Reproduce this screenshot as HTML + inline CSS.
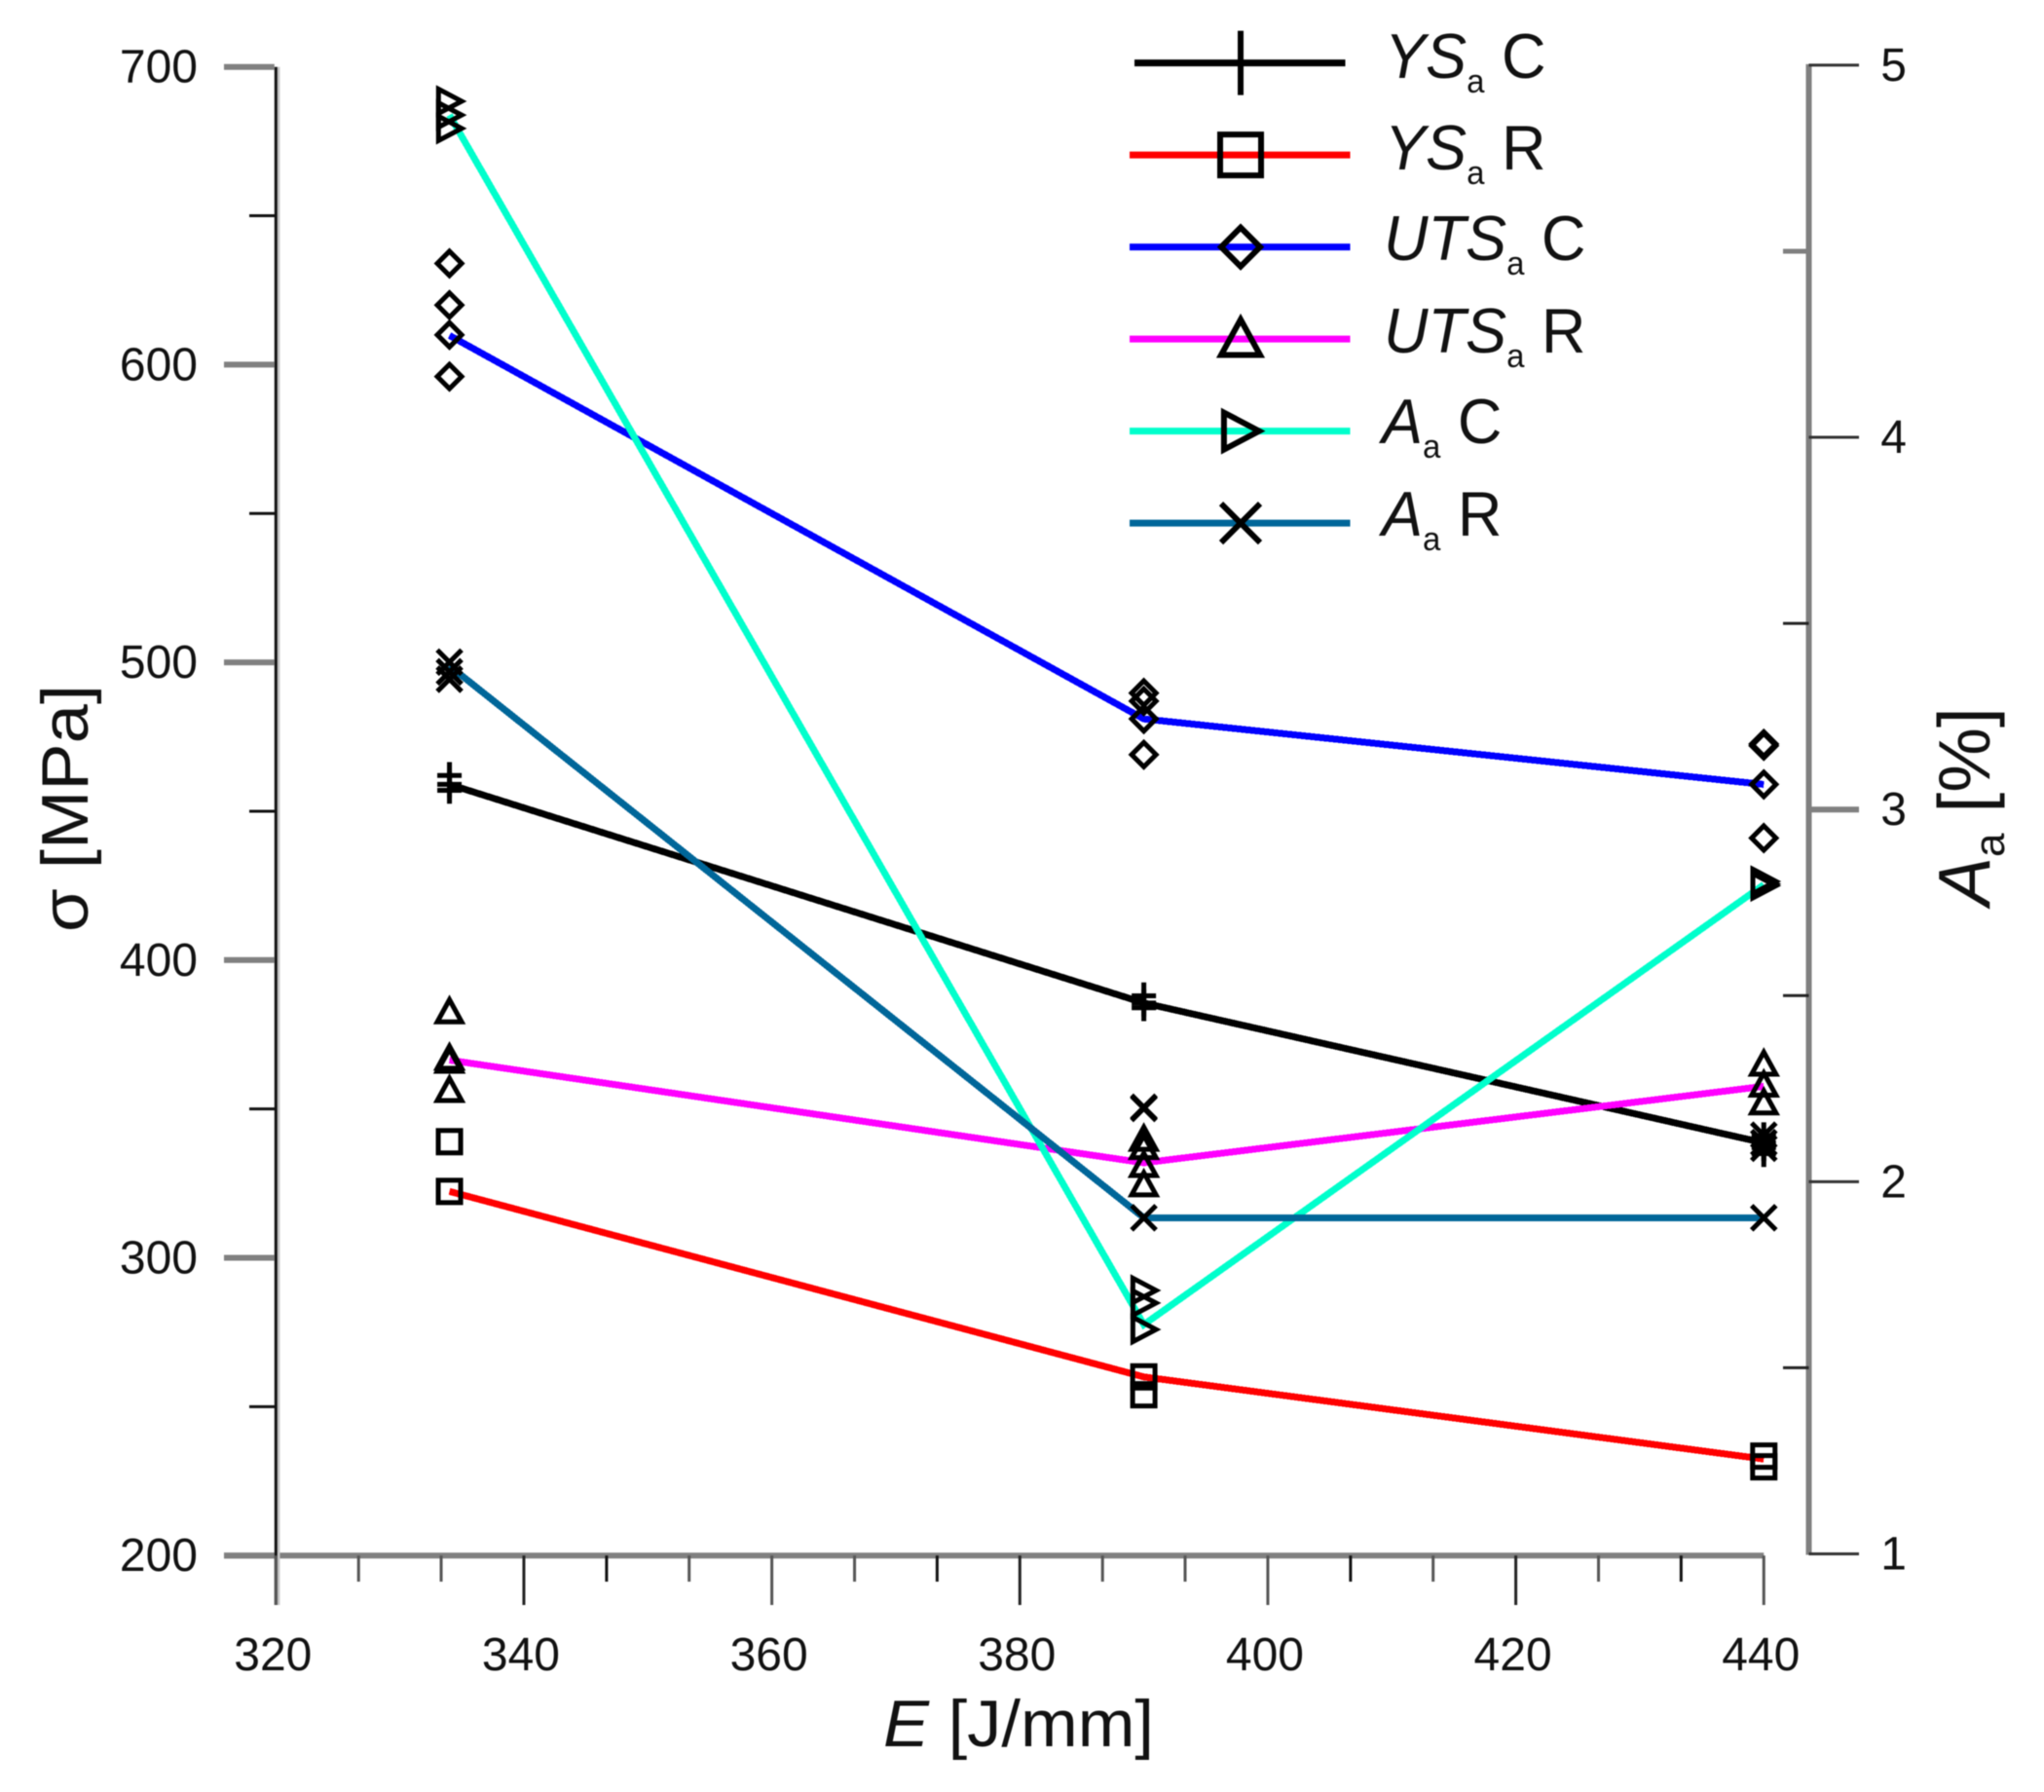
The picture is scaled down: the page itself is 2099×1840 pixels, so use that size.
<!DOCTYPE html>
<html>
<head>
<meta charset="utf-8">
<title>Strength and elongation vs energy</title>
<style>
html,body{margin:0;padding:0;background:#fff;}
svg{display:block;filter:blur(.5px);}
text{font-family:"Liberation Sans",sans-serif;fill:#111;}
</style>
</head>
<body>
<svg id="chart" xmlns="http://www.w3.org/2000/svg" width="2099" height="1840" viewBox="0 0 2099 1840">
  <rect x="0" y="0" width="2099" height="1840" fill="#fff"/>
  <g id="axes"></g>
  <g id="series"></g>
  <g id="marks"></g>
  <g id="legend"></g>

  <text x="907" y="1793" font-size="68" textLength="278" lengthAdjust="spacingAndGlyphs"><tspan font-style="italic">E</tspan> [J/mm]</text>
  <text transform="translate(90,957) rotate(-90)" font-size="68" textLength="254" lengthAdjust="spacingAndGlyphs">σ [MPa]</text>
  <text transform="translate(2043,930) rotate(-90)" font-size="75"><tspan font-style="italic">A</tspan><tspan font-size="44" dy="15">a</tspan><tspan dy="-15"> [%]</tspan></text>

  <g font-size="65">
    <text transform="translate(1422,80) scale(.97,1)"><tspan font-style="italic">YS</tspan><tspan font-size="34" dy="15">a</tspan><tspan dy="-15"> C</tspan></text>
    <text transform="translate(1422,174) scale(.97,1)"><tspan font-style="italic">YS</tspan><tspan font-size="34" dy="15">a</tspan><tspan dy="-15"> R</tspan></text>
    <text transform="translate(1421,267) scale(.97,1)"><tspan font-style="italic">UTS</tspan><tspan font-size="34" dy="15">a</tspan><tspan dy="-15"> C</tspan></text>
    <text transform="translate(1421,362) scale(.97,1)"><tspan font-style="italic">UTS</tspan><tspan font-size="34" dy="15">a</tspan><tspan dy="-15"> R</tspan></text>
    <text transform="translate(1419,455) scale(.97,1)"><tspan font-style="italic">A</tspan><tspan font-size="34" dy="15">a</tspan><tspan dy="-15"> C</tspan></text>
    <text transform="translate(1419,550) scale(.97,1)"><tspan font-style="italic">A</tspan><tspan font-size="34" dy="15">a</tspan><tspan dy="-15"> R</tspan></text>
  </g>
</svg>
<script>
// ---- chart data ----
const energies = [334, 390, 440];

const ysCMean = [459, 385.6, 338.6];
const ysRMean = [322.3, 260, 232.4];
const utsCMean = [609.8, 481, 459];
const utsRMean = [366.4, 331.9, 357.6];
const aCMean = [4.866, 1.616, 2.798];
const aRMean = [3.386, 1.903, 1.903];

const ysCSamples = [[462, 459, 457], [388, 385.6, 384], [335, 337, 338.6, 341]];
const ysRSamples = [[339, 322.3], [260, 254], [233.4, 229.8]];
const utsCSamples = [[634, 620, 610, 596], [489.7, 487, 481, 469], [472.6, 472, 459, 441]];
const utsRSamples = [[382.6, 367, 366, 356.2], [339.8, 337, 331, 324.5], [365, 358, 352]];
const aCSamples = [[4.903, 4.866, 4.83], [1.708, 1.674, 1.603], [2.807, 2.8, 2.795]];
const aRSamples = [[3.396, 3.37, 3.35], [2.197, 2.2, 1.903], [2.125, 2.105, 2.09, 1.903]];

const xTickLabels = [320, 340, 360, 380, 400, 420, 440];
const xMinorTicks = [326.67, 333.33, 346.67, 353.33, 366.67, 373.33, 386.67, 393.33, 406.67, 413.33, 426.67, 433.33];
const leftTickLabels = [200, 300, 400, 500, 600, 700];
const leftMinorTicks = [250, 350, 450, 550, 650];
const rightTickLabels = [1, 2, 3, 4, 5];
const rightMinorTicks = [1.5, 2.5, 3.5, 4.5];

// ---- axis functions ----
const xScale = v => 283.3 + (v - 320) * 12.733;
const leftScale = v => 1597.2 - (v - 200) * 3.057;
const rightScale = v => 1595.5 - (v - 1) * 382.15;

const NS = 'http://www.w3.org/2000/svg';
const axesG = document.getElementById('axes');
const seriesG = document.getElementById('series');
const marksG = document.getElementById('marks');
const legendG = document.getElementById('legend');

function svgEl(tag, parent, attrs) {
  const el = document.createElementNS(NS, tag);
  for (const k in attrs) el.setAttribute(k, attrs[k]);
  parent.appendChild(el);
  return el;
}
function axisLine(parent, name, x1, y1, x2, y2, color, w) {
  const el = svgEl('line', parent, {x1, y1, x2, y2, stroke: color, 'stroke-width': w});
  
  
  return el;
}
function tickText(name, x, y, anchor, label) {
  const el = svgEl('text', axesG, {x, y, 'text-anchor': anchor, 'font-size': 48});
  
  
  el.textContent = label;
  return el;
}

// ---- axes ----
axisLine(axesG, 'x-axis-line', 230, leftScale(200), xScale(440), leftScale(200), '#808080', 6);
axisLine(axesG, 'left-y-axis-shadow', 286, leftScale(700), 286, 1648, '#c8c8c8', 3);
axisLine(axesG, 'left-y-axis-line', 283.3, leftScale(700), 283.3, 1648, '#111', 3);
axisLine(axesG, 'right-y-axis-line', 1857.5, rightScale(5) - 1, 1857.5, rightScale(1) + 1, '#808080', 6);

leftTickLabels.forEach(v => {
  axisLine(axesG, 'left-major-tick-' + v, 230, leftScale(v), 281.8, leftScale(v), '#808080', 6);
  tickText('left-tick-label-' + v, 203, leftScale(v) + 16, 'end', v);
});
leftMinorTicks.forEach(v => {
  axisLine(axesG, 'left-minor-tick-' + v, 256, leftScale(v), 283.3, leftScale(v), '#111', 3);
});
xTickLabels.forEach((v, i) => {
  axisLine(axesG, 'x-major-tick-' + v, xScale(v), leftScale(200), xScale(v), 1648, i % 2 ? '#222' : '#555', 3);
  tickText('x-tick-label-' + v, xScale(v) - 3, 1715, 'middle', v);
});
xMinorTicks.forEach((v, i) => {
  axisLine(axesG, 'x-minor-tick-' + Math.round(v), xScale(v), leftScale(200), xScale(v), 1624, i % 3 === 2 ? '#111' : '#555', 3);
});
rightTickLabels.forEach(v => {
  const thick = v === 3;
  axisLine(axesG, 'right-major-tick-' + v, 1857.5, rightScale(v), 1909, rightScale(v), thick ? '#808080' : '#333', thick ? 6 : 3);
  tickText('right-tick-label-' + v, 1958, rightScale(v) + 16, 'end', v);
});
rightMinorTicks.forEach(v => {
  const thick = v === 4.5;
  axisLine(axesG, 'right-minor-tick-' + v, 1831, rightScale(v), 1857.5, rightScale(v), thick ? '#808080' : '#222', thick ? 5 : 3);
});

// ---- marker drawing ----
function drawMarker(parent, kind, cx, cy, s, sw) {
  const g = svgEl('g', parent, {fill: 'none', stroke: '#000', 'stroke-width': sw});
  if (kind === 'plus') {
    svgEl('path', g, {d: `M${cx - s} ${cy}H${cx + s}M${cx} ${cy - s * 1.1}V${cy + s * 1.1}`});
  } else if (kind === 'square') {
    svgEl('rect', g, {x: cx - s + 1, y: cy - s + 1, width: 2 * s - 2, height: 2 * s - 2});
  } else if (kind === 'diamond') {
    svgEl('path', g, {d: `M${cx} ${cy - s}L${cx + s} ${cy}L${cx} ${cy + s}L${cx - s} ${cy}Z`});
  } else if (kind === 'triangle') {
    svgEl('path', g, {d: `M${cx} ${cy - s}L${cx + s} ${cy + s * 0.82}H${cx - s}Z`});
  } else if (kind === 'right') {
    svgEl('path', g, {d: `M${cx - s * 0.9} ${cy - s}L${cx + s} ${cy}L${cx - s * 0.9} ${cy + s}Z`});
  } else if (kind === 'cross') {
    svgEl('path', g, {d: `M${cx - s} ${cy - s}L${cx + s} ${cy + s}M${cx + s} ${cy - s}L${cx - s} ${cy + s}`});
  }
  return g;
}

// ---- series ----
function drawSeries(key, means, samples, color, kind, yScale) {
  const pts = energies.map((e, i) => xScale(e) + ',' + yScale(means[i])).join(' ');
  const line = svgEl('polyline', seriesG, {points: pts, fill: 'none', stroke: color, 'stroke-width': 7, 'shape-rendering': 'crispEdges'});
  
  
  energies.forEach((e, i) => {
    samples[i].forEach((v, j) => {
      const m = drawMarker(marksG, kind, xScale(e), yScale(v), 12.5, 5);
      
      
    });
  });
}
drawSeries('ys-c', ysCMean, ysCSamples, '#000000', 'plus', leftScale);
drawSeries('ys-r', ysRMean, ysRSamples, '#ff0000', 'square', leftScale);
drawSeries('uts-c', utsCMean, utsCSamples, '#0000ff', 'diamond', leftScale);
drawSeries('uts-r', utsRMean, utsRSamples, '#ff00ff', 'triangle', leftScale);
drawSeries('a-c', aCMean, aCSamples, '#00ffcc', 'right', rightScale);
drawSeries('a-r', aRMean, aRSamples, '#006699', 'cross', rightScale);

// ---- legend keys ----
const legendKeys = ['ys-c', 'ys-r', 'uts-c', 'uts-r', 'a-c', 'a-r'];
const legendColors = ['#000000', '#ff0000', '#0000ff', '#ff00ff', '#00ffcc', '#006699'];
const legendKinds = ['plus', 'square', 'diamond', 'triangle', 'right', 'cross'];
const legendSizes = [30, 22, 20, 20, 19, 20];
legendKeys.forEach((key, i) => {
  const y = 64.6 + i * 94.5;
  const inset = i === 0 ? 5 : 0;
  const l = svgEl('line', legendG, {x1: 1160 + inset, y1: y, x2: 1386.5 - inset, y2: y, stroke: legendColors[i], 'stroke-width': 7});
  
  
  const m = drawMarker(legendG, legendKinds[i], 1274, y, legendSizes[i], 6);
  
  
});
</script>
</body>
</html>
